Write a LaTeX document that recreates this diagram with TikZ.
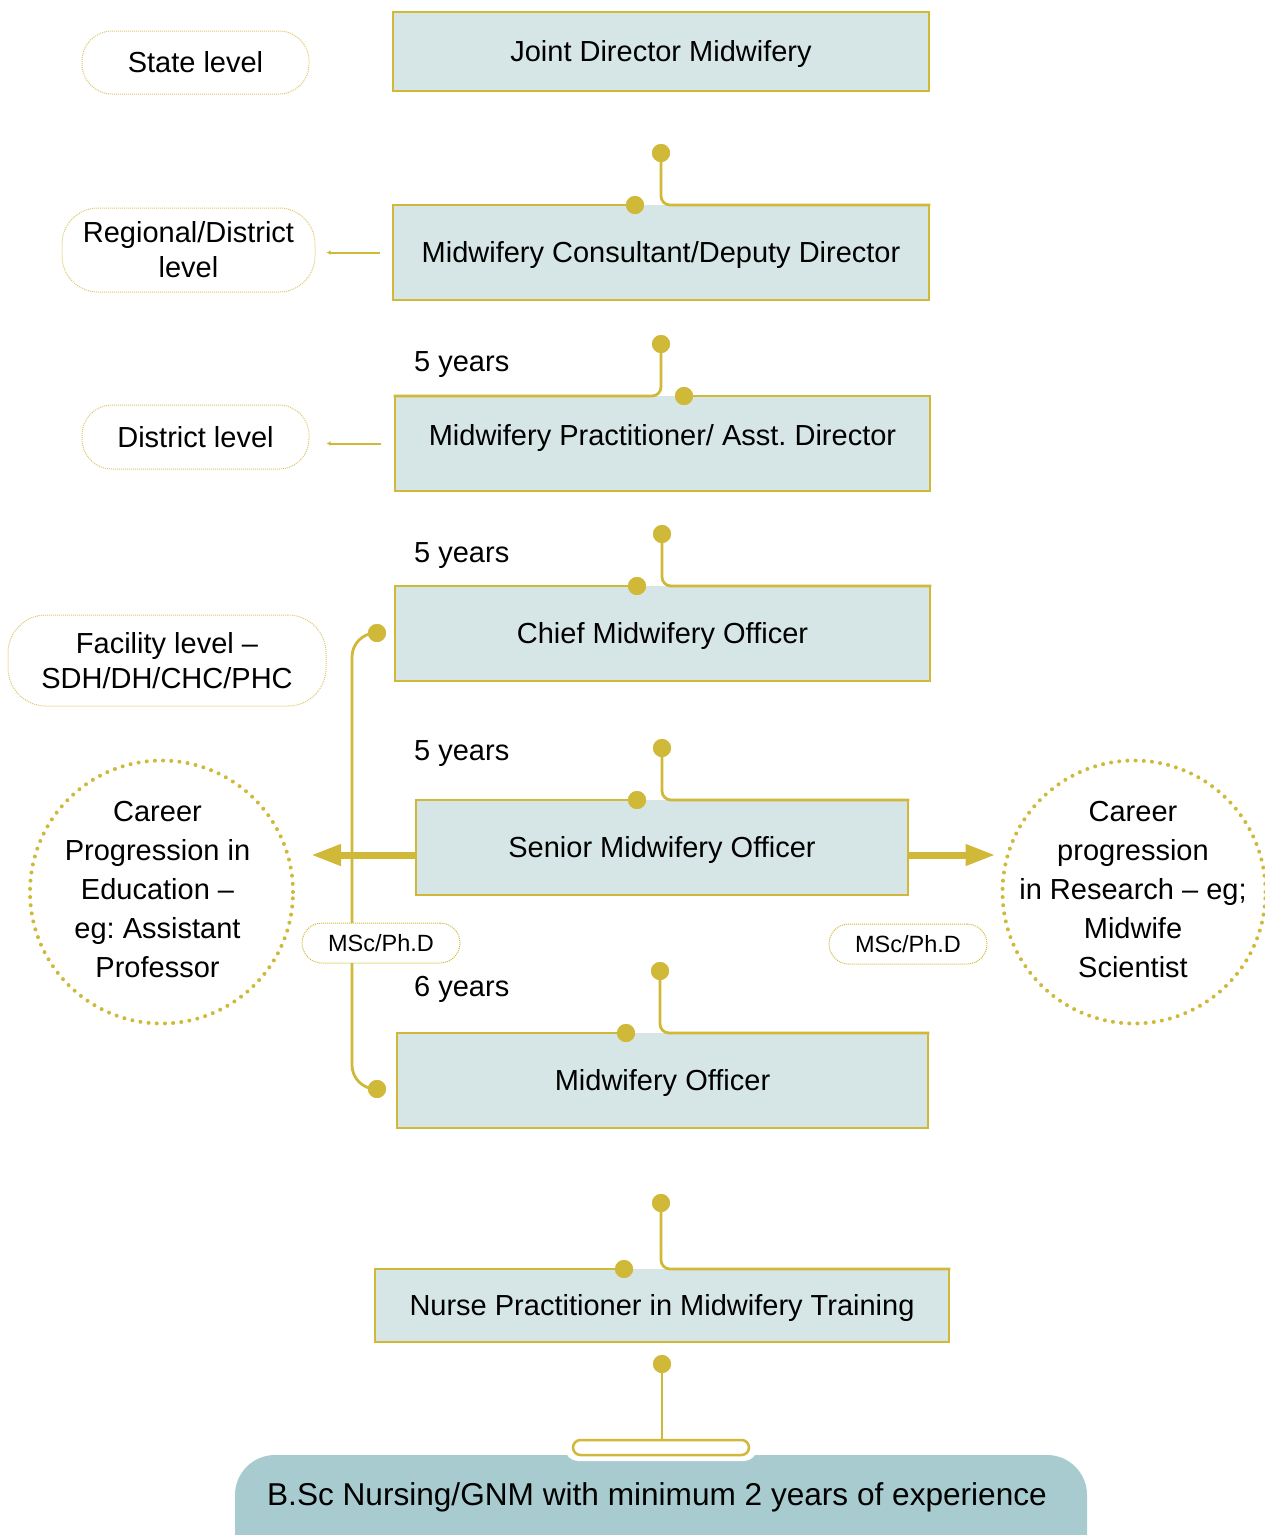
\documentclass[tikz,border=0pt]{standalone}
\usepackage{fontspec}
\setmainfont{Liberation Sans}
\usetikzlibrary{arrows.meta,calc}
\definecolor{gold}{RGB}{208,184,56}
\definecolor{boxfill}{RGB}{214,230,230}
\definecolor{lightgold}{RGB}{220,199,105}
\definecolor{basefill}{RGB}{167,203,206}
\frenchspacing
\begin{document}
\frenchspacing
\begin{tikzpicture}[x=1pt,y=-1pt,
  font=\fontsize{29}{35}\selectfont,
  stepbox/.style={fill=boxfill, draw=none, outer sep=0pt, inner sep=0pt, text height=20.8pt, text depth=0pt},
  bord/.style={draw=gold, line width=2.8pt, line cap=rect, line join=miter},
  conn/.style={draw=gold, line width=2.8pt, line cap=rect},
  dot/.style={circle, fill=gold, inner sep=0pt, minimum size=18pt, outer sep=0pt},
  lvl/.style={draw=lightgold, fill=white, line width=1pt, dash pattern=on 1pt off 1pt, rounded corners=30pt, align=center, inner sep=0pt},
  deg/.style={draw=gold, fill=white, line width=1pt, dash pattern=on 1pt off 1pt, rounded corners=20pt, minimum width=158pt, minimum height=40pt, inner sep=0pt, font=\fontsize{23.5}{28}\selectfont},
  career/.style={circle, draw=gold, line width=4pt, dash pattern=on 0pt off 8.2pt, line cap=round, minimum size=263pt, inner sep=0pt},
  circtext/.style={align=center, inner sep=0pt, font=\fontsize{29}{39}\selectfont},
  yrs/.style={anchor=base west, inner sep=0pt},
  lvlarrow/.style={draw=gold, line width=2pt, -{Latex[length=4pt,width=4.5pt]}},
  bigarrow/.style={draw=gold, line width=7pt, -{Triangle[length=30pt,width=20pt]}},
]
\useasboundingbox (0,0) rectangle (1265,1535);
\clip (0,0) rectangle (1265,1535);

% level labels
\node[lvl, minimum width=227pt, minimum height=63pt] (state) at (195.5,62.5) {State level};
\node[lvl, minimum width=253pt, minimum height=84pt, rounded corners=36pt] (reg) at (188.5,250) {Regional/District\\level};
\node[lvl, minimum width=227pt, minimum height=64pt] (dist) at (195.5,437) {District level};
\node[lvl, minimum width=318pt, minimum height=91pt, rounded corners=38pt] (fac) at (167,660.5) {Facility level --\\SDH/DH/CHC/PHC};

% boxes
\node[stepbox, draw=gold, line width=2.8pt, minimum width=536pt, minimum height=79pt] (b1) at (661,51.5) {Joint Director Midwifery};
\node[stepbox, minimum width=536pt, minimum height=95pt] (b2) at (661,252.5) {Midwifery Consultant/Deputy Director\hspace{6pt}};
\node[stepbox, minimum width=535pt, minimum height=95pt, text depth=16pt] (b3) at (662.5,443.5) {Midwifery Practitioner/ Asst. Director};
\node[stepbox, minimum width=535pt, minimum height=95pt] (b4) at (662.5,633.5) {Chief Midwifery Officer};
\node[stepbox, minimum width=492pt, minimum height=95pt] (b5) at (662,847.5) {Senior Midwifery Officer};
\node[stepbox, minimum width=531pt, minimum height=95pt] (b6) at (662.5,1080.5) {Midwifery Officer};
\node[stepbox, minimum width=574pt, minimum height=73pt] (b7) at (662,1305.5) {Nurse Practitioner in Midwifery Training\hspace{6pt}};

% bottom base
\node[fill=basefill, rounded corners=40pt, minimum width=852pt, minimum height=130pt, inner sep=0pt] (base) at (661,1520) {};
\node[inner sep=0pt, font=\fontsize{31.6}{36}\selectfont] (basetext) at (657,1497) {B.Sc Nursing/GNM with minimum 2 years of experience};
\node[fill=white, rounded corners=13pt, minimum width=192pt, minimum height=27pt, inner sep=0pt] (halo) at (661,1447.5) {};
\node[draw=gold, fill=white, line width=2.5pt, rounded corners=7.5pt, minimum width=176pt, minimum height=15pt, inner sep=0pt] (pill) at (661,1447.5) {};

% career circles
\node[career] (cL) at (161.5,892) {};
\node[circtext] (cLt) at (157.5,890) {Career\\Progression in\\Education --\\eg: Assistant\\Professor};
\node[career] (cR) at (1134,892) {};
\node[circtext] (cRt) at (1133,890) {Career\\progression\\in Research -- eg;\\Midwife\\Scientist};

% dots
\node[dot] (t2) at (661,153) {};
\node[dot] (l2) at (635,205) {};
\node[dot] (t3) at (661,344) {};
\node[dot] (r3) at (684,396) {};
\node[dot] (t4) at (662,534) {};
\node[dot] (l4) at (637,586) {};
\node[dot] (t5) at (662,748) {};
\node[dot] (l5) at (637,800) {};
\node[dot] (t6) at (660,971) {};
\node[dot] (l6) at (626,1033) {};
\node[dot] (t7) at (661,1203) {};
\node[dot] (l7) at (624,1269) {};
\node[dot] (t8) at (662,1364) {};
\node[dot] (dA) at (377,633) {};
\node[dot] (dB) at (377,1089) {};

% side bracket (behind the degree label)
\draw[conn, rounded corners=24pt] (dA.center) -- ++(-25,0) |- (dB.center);
\node[dot] at (dA) {};
\node[dot] at (dB) {};
\node[deg] (degL) at (381,943) {MSc/Ph.D};
\node[deg] (degR) at (908,944) {MSc/Ph.D};

% arrows to career circles
\draw[bigarrow] ([yshift=-7.5pt]b5.west) -- ($(cL.east |- b5.west)+(16,7.5)$);
\draw[bigarrow] ([yshift=-7.5pt]b5.east) -- ($(cR.west |- b5.east)+(-5,7.5)$);

% level arrows
\draw[lvlarrow] ($(b2.west)+(-13,0)$) -- ($(reg.east |- b2.west)+(11,0)$);
\draw[lvlarrow] ($(b3.west)+(-14,0)$) -- ($(dist.east |- b3.west)+(17,0)$);

% borders with connectors
\draw[bord] (b2.north east) -- (b2.south east) -- (b2.south west) -- (b2.north west) -- (l2.center);
\draw[conn, rounded corners=9pt] (t2.center) |- (b2.north east);
\draw[bord] (b3.north west) -- (b3.south west) -- (b3.south east) -- (b3.north east) -- (r3.center);
\draw[conn, rounded corners=9pt] (t3.center) |- (b3.north west);
\draw[bord] (b4.north east) -- (b4.south east) -- (b4.south west) -- (b4.north west) -- (l4.center);
\draw[conn, rounded corners=9pt] (t4.center) |- (b4.north east);
\draw[bord] (b5.north east) -- (b5.south east) -- (b5.south west) -- (b5.north west) -- (l5.center);
\draw[conn, rounded corners=9pt] (t5.center) |- (b5.north east);
\draw[bord] (b6.north east) -- (b6.south east) -- (b6.south west) -- (b6.north west) -- (l6.center);
\draw[conn, rounded corners=9pt] (t6.center) |- (b6.north east);
\draw[bord] (b7.north east) -- (b7.south east) -- (b7.south west) -- (b7.north west) -- (l7.center);
\draw[conn, rounded corners=9pt] (t7.center) |- (b7.north east);
\draw[conn, line cap=butt] (t8.center) -- (t8.center |- pill.north);

% redraw dots on top
\foreach \d in {t2,l2,t3,r3,t4,l4,t5,l5,t6,l6,t7,l7,t8}{\node[dot] at (\d) {};}

% year labels
\node[yrs] (y1) at (414,371) {5 years};
\node[yrs] (y2) at (414,562) {5 years};
\node[yrs] (y3) at (414,760) {5 years};
\node[yrs] (y4) at (414,996) {6 years};
\end{tikzpicture}
\end{document}
